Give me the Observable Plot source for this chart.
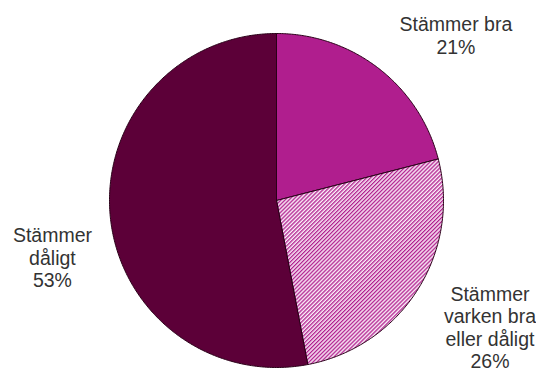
<!DOCTYPE html>
<html>
<head>
<meta charset="utf-8">
<script src="https://cdn.jsdelivr.net/npm/d3@7"></script>
<script src="https://cdn.jsdelivr.net/npm/@observablehq/plot@0.6"></script>
<style>
  html, body { margin: 0; padding: 0; background: #fff; }
  #chart svg { display: block; }
</style>
</head>
<body>
<svg width="0" height="0" style="position:absolute">
  <defs>
    <pattern id="hatch" patternUnits="userSpaceOnUse" width="2.8" height="10" patternTransform="rotate(45)">
      <rect width="2.8" height="10" fill="#fbeef8"></rect>
      <rect width="1.3" height="10" fill="#b01e8e"></rect>
    </pattern>
  </defs>
</svg>
<div id="chart"></div>
<script>
// Data
const categories = ["Stämmer bra", "Stämmer varken bra eller dåligt", "Stämmer dåligt"];
const labelLines = [["Stämmer bra", "21%"], ["Stämmer", "varken bra", "eller dåligt", "26%"], ["Stämmer", "dåligt", "53%"]];
const values = [21, 26, 53];

// Styles / layout
const fills = ["#b01e8e", "url(#hatch)", "#5c0038"];
const W = 536, H = 372, cx = 276, cy = 200, R = 167;
// label nudges (pixels) relative to radial anchor
const labelRadius = 1.45;
const labelNudge = [[31, 27], [9, -2], [17, 35]];
const lineH = 22.5;

const pie = d3.pie().sort(null).value(d => d)(values);

// Build slice polygons in unit-circle coordinates from pie angles
const pts = [];
pie.forEach((p, i) => {
  const n = Math.max(8, Math.ceil((p.endAngle - p.startAngle) / 0.01));
  pts.push({cat: categories[i], fill: fills[i], x: 0, y: 0});
  for (let k = 0; k <= n; k++) {
    const a = p.startAngle + (p.endAngle - p.startAngle) * k / n;
    pts.push({cat: categories[i], fill: fills[i], x: Math.sin(a), y: Math.cos(a)});
  }
  pts.push({cat: categories[i], fill: fills[i], x: 0, y: 0});
});

// Labels
const labels = [];
pie.forEach((p, i) => {
  const mid = (p.startAngle + p.endAngle) / 2;
  const lines = labelLines[i];
  lines.forEach((t, j) => {
    labels.push({
      text: t,
      x: labelRadius * Math.sin(mid),
      y: labelRadius * Math.cos(mid),
      dx: labelNudge[i][0],
      dy: labelNudge[i][1] + (j - (lines.length - 1) / 2) * lineH
    });
  });
});

const chart = Plot.plot({
  width: W,
  height: H,
  margin: 0,
  x: {domain: [-cx / R, (W - cx) / R], axis: null},
  y: {domain: [-(H - cy) / R, cy / R], axis: null},
  color: {type: "identity"},
  style: {background: "#fff"},
  marks: [
    Plot.line(pts, {x: "x", y: "y", z: "cat", fill: "fill", stroke: "#2a0018", strokeWidth: 1, strokeLinejoin: "round", curve: "linear"}),
    ...labels.map(l => Plot.text([l], {
      x: "x", y: "y", text: "text", dx: l.dx, dy: l.dy,
      fontSize: 19.5, fontFamily: "Liberation Sans, Arial, sans-serif",
      fill: "#333", textAnchor: "middle"
    }))
  ]
});
document.getElementById("chart").appendChild(chart);
</script>
</body>
</html>
